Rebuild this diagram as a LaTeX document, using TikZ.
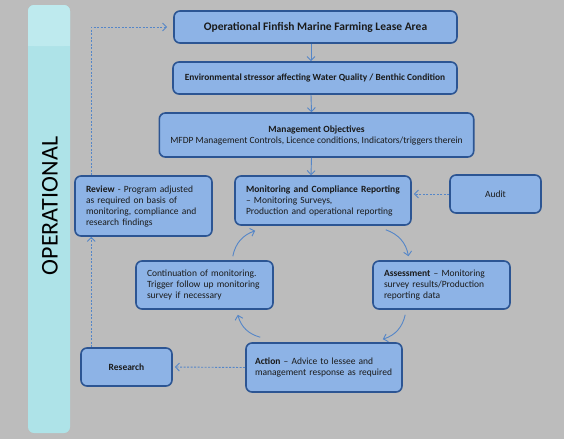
\documentclass[tikz,border=0pt]{standalone}
\usepackage{fontspec}
\setmainfont{Carlito}
\usetikzlibrary{arrows.meta,calc}
\definecolor{bggray}{HTML}{BCBCBC}
\definecolor{bandcyan}{HTML}{AEE3E8}
\definecolor{bandtop}{HTML}{BEEAEE}
\definecolor{boxfill}{HTML}{8DB3E6}
\definecolor{boxedge}{HTML}{2C5593}
\definecolor{arrowblue}{HTML}{5586C8}
\definecolor{txt}{HTML}{1A1A1A}
\begin{document}
\begin{tikzpicture}[x=1pt,y=-1pt,
  bx/.style={draw=boxedge,line width=1.6pt,fill=boxfill,rounded corners=6pt,
    text=txt,font=\fontsize{9.5}{11}\selectfont,inner xsep=11pt,inner ysep=2pt},
  flow/.style={draw=arrowblue,line width=0.9pt,-{Straight Barb[length=4pt,width=8pt]}},
  dflow/.style={flow,dash pattern=on 2pt off 1.5pt,line width=0.9pt}]
\useasboundingbox (0,0) rectangle (564,439);
\fill[bggray] (0,0) rectangle (564,439);
\fill[bandcyan,rounded corners=6pt] (28,5) rectangle (70,433);
\fill[bandtop,rounded corners=6pt] (28,5) rectangle (70,46);
\fill[bandtop] (28,40) rectangle (70,46);
\node[rotate=90,font=\fontsize{24}{24}\selectfont,text=black] (oper) at (50,206) {OPERATIONAL};

\node[bx,minimum width=283pt,minimum height=32pt,font=\fontsize{11.5}{13}\selectfont\bfseries] (top) at (315.5,27) {Operational Finfish Marine Farming Lease Area};
\node[bx,minimum width=284pt,minimum height=32pt,font=\fontsize{9.4}{11}\selectfont\bfseries] (env) at (315,78) {Environmental stressor affecting Water Quality / Benthic Condition};
\node[bx,minimum width=313pt,minimum height=44pt,align=center] (mgmt) at (316.5,135) {\textbf{Management Objectives}\\MFDP Management Controls, Licence conditions, Indicators/triggers therein};
\node[bx,minimum width=137pt,minimum height=60pt,text width=115pt,align=left] (review) at (143.5,206) {\textbf{Review} - Program adjusted\\ as required on basis of\\ monitoring, compliance and\\ research findings};
\node[bx,minimum width=176pt,minimum height=49pt,text width=154pt,align=left] (monit) at (323,200.5) {\textbf{Monitoring and Compliance Reporting}\\ -- Monitoring Surveys,\\ Production and operational reporting};
\node[bx,minimum width=91pt,minimum height=38pt] (audit) at (495.5,194) {Audit};
\node[bx,minimum width=137pt,minimum height=48pt,text width=115pt,align=left] (cont) at (204.5,285) {Continuation of monitoring.\\ Trigger follow up monitoring\\ survey if necessary};
\node[bx,minimum width=137pt,minimum height=48pt,text width=115pt,align=left] (assess) at (441.5,285) {\textbf{Assessment} -- Monitoring\\ survey results/Production\\ reporting data};
\node[bx,minimum width=91pt,minimum height=38pt,font=\fontsize{9.5}{11}\selectfont\bfseries] (research) at (126.5,367) {Research};
\node[bx,minimum width=156pt,minimum height=49pt,inner xsep=9pt,text width=138pt,align=left] (action) at (324,367.5) {\textbf{Action} -- Advice to lessee and\\ management response as required};

\draw[flow] ([xshift=-4.5pt]top.south) -- ([xshift=-4pt]env.north);
\draw[flow] ([xshift=-4pt]env.south) -- ([xshift=-5pt]mgmt.north);
\draw[flow] ([xshift=-5pt]mgmt.south) -- ([xshift=-12pt]monit.north);
\draw[dflow,shorten >=2pt] (audit.west) -- (audit.west -| monit.east);
\draw[flow] ([xshift=-26pt,yshift=-4pt]monit.south east) to[bend left=30] ([xshift=-33pt,yshift=4pt]assess.north);
\draw[flow] ([xshift=33pt,yshift=-5pt]assess.south west) to[bend left=30] ([xshift=-20pt,yshift=3pt]action.north east);
\draw[flow] ([xshift=15pt,yshift=5pt]action.north west) to[bend left=30] ([xshift=-36pt,yshift=-5pt]cont.south east);
\draw[flow] ([xshift=-41pt,yshift=4pt]cont.north east) to[bend left=30] ([xshift=21pt,yshift=-5pt]monit.south west);
\draw[dflow,shorten >=2pt] (action.west) -- (research.east);
\draw[dflow] ([xshift=11pt]research.north west) -- ([xshift=11pt]research.north west |- review.south);
\draw[dflow,shorten >=6pt] ([xshift=17pt]review.north west) |- (top.west);
\end{tikzpicture}
\end{document}
